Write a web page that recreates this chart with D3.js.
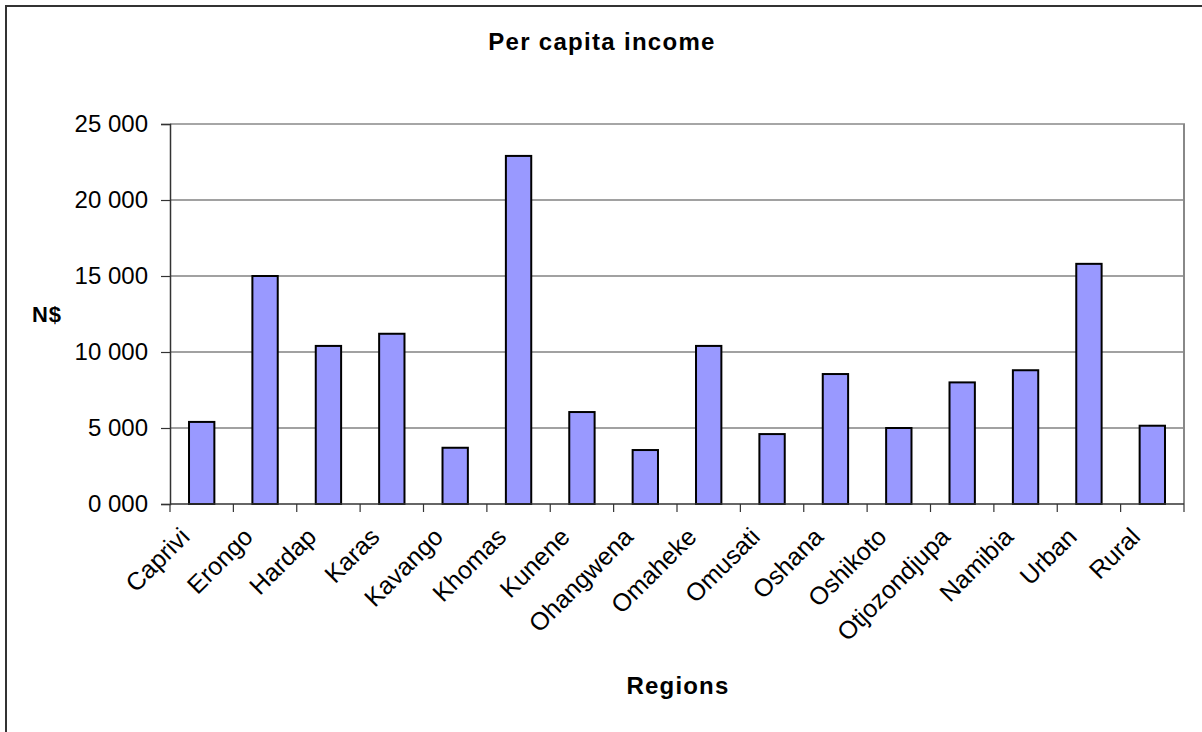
<!DOCTYPE html>
<html><head><meta charset="utf-8">
<script src="https://cdn.jsdelivr.net/npm/d3@7"></script>
<style>body{margin:0;background:#fff}svg{display:block}</style>
</head><body>
<svg id="c" width="1202" height="732"></svg>
<script>
const categories = ["Caprivi","Erongo","Hardap","Karas","Kavango","Khomas","Kunene","Ohangwena","Omaheke","Omusati","Oshana","Oshikoto","Otjozondjupa","Namibia","Urban","Rural"];
const values = [5400,15000,10400,11200,3700,22900,6050,3550,10400,4600,8550,5000,8000,8800,15800,5150];
const yTicks = [0,5000,10000,15000,20000,25000];
const yTickLabels = ["0 000","5 000","10 000","15 000","20 000","25 000"];
const title = "Per capita income";
const yTitle = "N$";
const xTitle = "Regions";

const svg = d3.select("#c");
const L = 170, R = 1184, T = 124, B = 504;
const font = "Arial, 'Liberation Sans', sans-serif";

svg.append("rect").attr("x",6).attr("y",6).attr("width",1210).attr("height",740)
  .attr("fill","none").attr("stroke","#333").attr("stroke-width",2);

const x = d3.scaleBand().domain(categories).range([L,R]).paddingInner(0.6).paddingOuter(0.3);
const xb = d3.scaleBand().domain(categories).range([L,R]);
const y = d3.scaleLinear().domain([0,25000]).range([B,T]);

// gridlines
svg.append("g").selectAll("line").data(yTicks.filter(d=>d>0 && d<25000)).join("line")
  .attr("x1",L).attr("x2",R).attr("y1",d=>y(d)).attr("y2",d=>y(d))
  .attr("stroke","#444").attr("stroke-width",1.2);
// plot frame top/right
svg.append("line").attr("x1",L).attr("x2",R+1).attr("y1",T).attr("y2",T).attr("stroke","#888").attr("stroke-width",1.5);
svg.append("line").attr("x1",R).attr("x2",R).attr("y1",T).attr("y2",B).attr("stroke","#888").attr("stroke-width",2);

// bars
svg.append("g").selectAll("rect").data(values).join("rect")
  .attr("x",(d,i)=>x(categories[i]))
  .attr("width",x.bandwidth())
  .attr("y",d=>y(d))
  .attr("height",d=>B-y(d))
  .attr("fill","#9999FF").attr("stroke","#000").attr("stroke-width",2);

// y axis
const yAxis = d3.axisLeft(y).tickValues(yTicks).tickFormat((d,i)=>yTickLabels[i]).tickSize(9).tickPadding(13);
const gy = svg.append("g").attr("transform",`translate(${L},0)`).call(yAxis);
gy.select(".domain").attr("stroke","#333").attr("stroke-width",1.5);
gy.selectAll(".tick line").attr("stroke","#333").attr("stroke-width",1.2);
gy.selectAll("text").attr("font-family",font).attr("font-size",24).attr("fill","#000");

// x axis
const gx = svg.append("g").attr("transform",`translate(0,${B})`);
gx.append("line").attr("x1",L).attr("x2",R).attr("stroke","#333").attr("stroke-width",1.5);
const bounds = categories.map(c=>xb(c)).concat([R]);
gx.selectAll("line.t").data(bounds).join("line").attr("class","t")
  .attr("x1",d=>d).attr("x2",d=>d).attr("y1",0).attr("y2",8).attr("stroke","#333").attr("stroke-width",1.2);
gx.selectAll("text").data(categories).join("text")
  .attr("transform",d=>`translate(${xb(d)+xb.bandwidth()/2-23},${22}) rotate(-45)`)
  .attr("text-anchor","end").attr("dy","0.7em")
  .attr("font-family",font).attr("font-size",25).attr("fill","#000")
  .text(d=>d);

// titles
svg.append("text").attr("x",602).attr("y",50).attr("text-anchor","middle")
  .attr("font-family",font).attr("font-weight","bold").attr("font-size",24).attr("letter-spacing",1.3).text(title);
svg.append("text").attr("x",47).attr("y",322).attr("text-anchor","middle")
  .attr("font-family",font).attr("font-weight","bold").attr("font-size",22).attr("letter-spacing",1).text(yTitle);
svg.append("text").attr("x",678).attr("y",694).attr("text-anchor","middle")
  .attr("font-family",font).attr("font-weight","bold").attr("font-size",24).attr("letter-spacing",1.2).text(xTitle);
</script>
</body></html>
